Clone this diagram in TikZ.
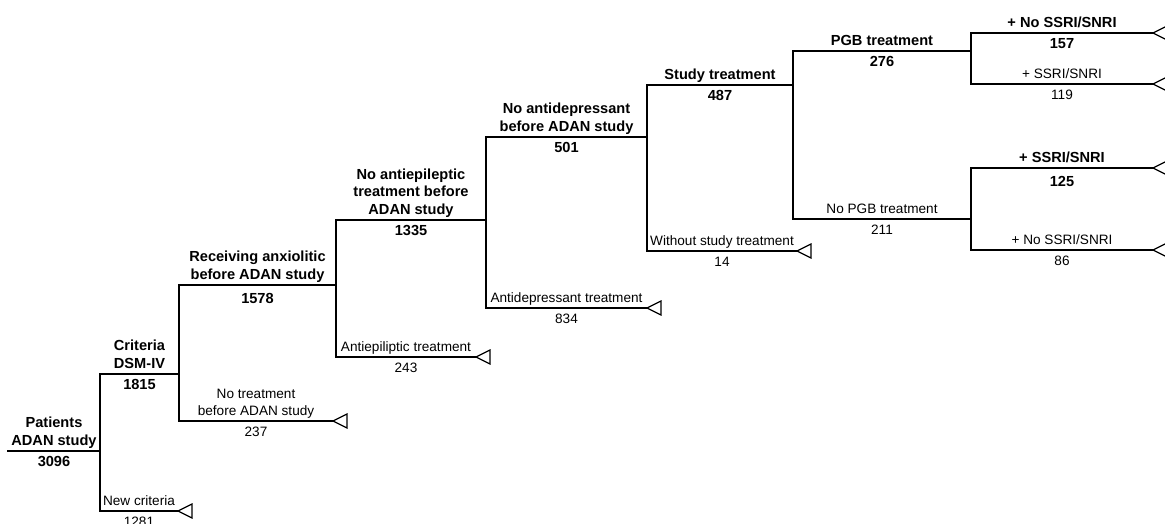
\documentclass[tikz,border=0pt]{standalone}
\usepackage{fontspec}
\setmainfont{Liberation Sans}
\usetikzlibrary{positioning}

\begin{document}
\begin{tikzpicture}[x=1pt, y=-1pt, line width=1.4pt, line cap=rect,
    lab/.style={align=center, inner sep=0pt, text depth=0pt, font=\fontsize{13.6}{17}\selectfont},
    blab/.style={lab, font=\bfseries\fontsize{14.6}{17.5}\selectfont}]
  \useasboundingbox (0,0) rectangle (1165,523);
  \def\tw{14}
  \def\th{7}

  % Branch points
  \coordinate (root) at (8,451);    \coordinate (s1) at (100,451);
  \coordinate (crit) at (100,374);  \coordinate (critE) at (179,374);
  \coordinate (newc) at (100,511);  \coordinate (newcE) at (178,511);
  \coordinate (anx) at (179,285);   \coordinate (anxE) at (336,285);
  \coordinate (notr) at (179,421);  \coordinate (notrE) at (333,421);
  \coordinate (noae) at (336,220);  \coordinate (noaeE) at (486,220);
  \coordinate (ae) at (336,357);    \coordinate (aeE) at (476,357);
  \coordinate (noad) at (486,137);  \coordinate (noadE) at (647,137);
  \coordinate (ad) at (486,308);    \coordinate (adE) at (647,308);
  \coordinate (stu) at (647,85);    \coordinate (stuE) at (793,85);
  \coordinate (nostu) at (647,251); \coordinate (nostuE) at (797,251);
  \coordinate (pgb) at (793,51);    \coordinate (pgbE) at (971,51);
  \coordinate (nopgb) at (793,219); \coordinate (nopgbE) at (971,219);
  \coordinate (pgbA) at (971,33);   \coordinate (pgbAE) at (1153,33);
  \coordinate (pgbB) at (971,84);   \coordinate (pgbBE) at (1153,84);
  \coordinate (npA) at (971,168);   \coordinate (npAE) at (1153,168);
  \coordinate (npB) at (971,250);   \coordinate (npBE) at (1153,250);

  % Splits
  \draw (crit) -- (newc);
  \draw (anx) -- (notr);
  \draw (noae) -- (ae);
  \draw (noad) -- (ad);
  \draw (stu) -- (nostu);
  \draw (pgb) -- (nopgb);
  \draw (pgbA) -- (pgbB);
  \draw (npA) -- (npB);

  % Kept patients
  \draw (root) -- node[blab, above=5pt]{Patients\\ADAN study} node[blab, below=5pt]{3096} (s1);
  \draw (crit) -- node[blab, above=5pt]{Criteria\\DSM-IV} node[blab, below=5pt]{1815} (critE);
  \draw (anx) -- node[blab, above=5pt]{Receiving anxiolitic\\before ADAN study} node[blab, below=8pt]{1578} (anxE);
  \draw (noae) -- node[blab, above=5pt]{No antiepileptic\\treatment before\\ADAN study} node[blab, below=5pt]{1335} (noaeE);
  \draw (noad) -- node[blab, above=5pt]{No antidepressant\\before ADAN study} node[blab, below=5pt]{501} (noadE);
  \draw (stu) -- node[blab, above=5pt]{Study treatment} node[blab, below=5pt]{487} (stuE);
  \draw (pgb) -- node[blab, above=5pt]{PGB treatment} node[blab, below=5pt]{276} (pgbE);
  \draw (nopgb) -- node[lab, above=5pt]{No PGB treatment} node[lab, below=5pt]{211} (nopgbE);

  % Excluded / final groups
  \draw (newc) -- node[lab, above=5pt]{New criteria} node[lab, below=5pt]{1281} (newcE);
  \draw (notr) -- node[lab, above=5pt]{No treatment\\before ADAN study} node[lab, below=5pt]{237} (notrE);
  \draw (ae) -- node[lab, above=5pt]{Antiepiliptic treatment} node[lab, below=5pt]{243} (aeE);
  \draw (ad) -- node[lab, above=5pt]{Antidepressant treatment} node[lab, below=5pt]{834} (adE);
  \draw (nostu) -- node[lab, above=5pt]{Without study treatment} node[lab, below=5pt]{14} (nostuE);
  \draw (pgbA) -- node[blab, above=5pt]{+ No SSRI/SNRI} node[blab, below=5pt]{157} (pgbAE);
  \draw (pgbB) -- node[lab, above=5pt]{+ SSRI/SNRI} node[lab, below=5pt]{119} (pgbBE);
  \draw (npA) -- node[blab, above=5pt]{+ SSRI/SNRI} node[blab, below=8pt]{125} (npAE);
  \draw (npB) -- node[lab, above=5pt]{+ No SSRI/SNRI} node[lab, below=5pt]{86} (npBE);

  % End marks
  \foreach \p in {newcE, notrE, aeE, adE, nostuE, pgbAE, pgbBE, npAE, npBE}
    \draw[line width=1.2pt, line cap=butt] (\p) -- ++(\tw,-\th) -- ++(0,2*\th) -- cycle;
\end{tikzpicture}
\end{document}
